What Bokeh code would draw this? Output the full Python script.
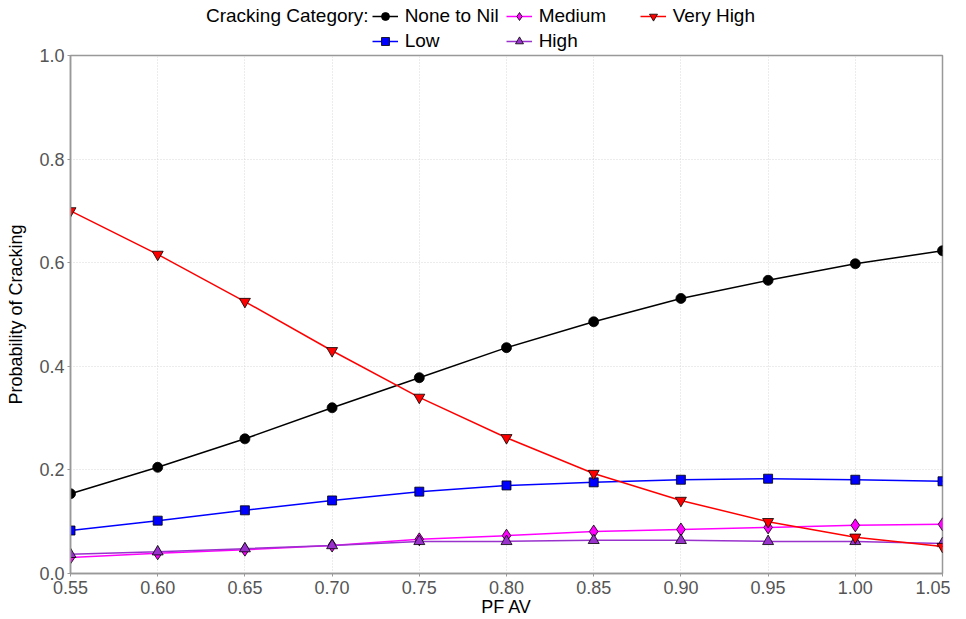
from bokeh.plotting import figure
from bokeh.layouts import column
from bokeh.models import Range1d, FixedTicker, Legend, LegendItem, NumeralTickFormatter
from bokeh.embed import file_html
from bokeh.resources import INLINE

pf_av = [0.55, 0.60, 0.65, 0.70, 0.75, 0.80, 0.85, 0.90, 0.95, 1.00, 1.05]
none_to_nil = [0.154, 0.205, 0.260, 0.320, 0.378, 0.436, 0.486, 0.531, 0.566, 0.598, 0.623]
low = [0.083, 0.102, 0.122, 0.141, 0.158, 0.170, 0.176, 0.181, 0.183, 0.181, 0.178]
medium = [0.031, 0.039, 0.046, 0.054, 0.066, 0.073, 0.081, 0.085, 0.089, 0.093, 0.095]
high = [0.037, 0.042, 0.048, 0.054, 0.062, 0.062, 0.064, 0.064, 0.062, 0.062, 0.058]
very_high = [0.700, 0.616, 0.525, 0.430, 0.340, 0.262, 0.193, 0.141, 0.100, 0.070, 0.052]

x_ticks = [0.55, 0.60, 0.65, 0.70, 0.75, 0.80, 0.85, 0.90, 0.95, 1.00, 1.05]
y_ticks = [0.0, 0.2, 0.4, 0.6, 0.8, 1.0]

series = [
    ("None to Nil", none_to_nil, "#000000", "circle", 10),
    ("Low", low, "#0000FF", "square", 9),
    ("Medium", medium, "#FF00FF", "diamond", 13),
    ("High", high, "#9932CC", "triangle", 11),
    ("Very High", very_high, "#FF0000", "inverted_triangle", 11),
]
legend_title = "Cracking Category:"

FONT = "Liberation Sans"

# ---------------- main chart ----------------
p = figure(width=950, height=575, output_backend="svg", toolbar_location=None,
           x_range=Range1d(0.55, 1.05), y_range=Range1d(0.0, 1.0),
           min_border_left=70, min_border_right=8, min_border_bottom=5, min_border_top=11,
           margin=(-8, 0, 0, 0))

p.background_fill_color = "white"
p.border_fill_color = "white"
p.border_fill_alpha = 0
p.outline_line_color = "#999999"
p.outline_line_width = 1.5

for ax in (p.xaxis, p.yaxis):
    ax.major_label_text_font = FONT
    ax.major_label_text_font_size = "18px"
    ax.major_label_text_color = "#555555"
    ax.axis_label_text_font = FONT
    ax.axis_label_text_font_size = "18px"
    ax.axis_label_text_font_style = "normal"
    ax.axis_label_text_color = "#000000"
    ax.axis_line_color = "#999999"
    ax.axis_line_width = 1.5
    ax.major_tick_line_color = "#999999"
    ax.major_tick_in = 0
    ax.major_tick_out = 3
    ax.minor_tick_line_color = None

p.xaxis.ticker = FixedTicker(ticks=x_ticks)
p.yaxis.ticker = FixedTicker(ticks=y_ticks)
p.xaxis.formatter = NumeralTickFormatter(format="0.00")
p.yaxis.formatter = NumeralTickFormatter(format="0.0")
p.xaxis.axis_label = "PF AV"
p.yaxis.axis_label = "Probability of Cracking"
p.xaxis.axis_label_standoff = 0
p.yaxis.axis_label_standoff = 10
p.xaxis.major_label_standoff = 4
p.yaxis.major_label_standoff = 3

for g in (p.xgrid, p.ygrid):
    g.grid_line_color = "#d8d8d8"
    g.grid_line_dash = "1 2"
    g.grid_line_width = 1
p.xgrid.ticker = FixedTicker(ticks=x_ticks)
p.ygrid.ticker = FixedTicker(ticks=y_ticks)

for name, ys, color, marker, size in series:
    p.line(pf_av, ys, line_color=color, line_width=1.5)
    p.scatter(pf_av, ys, marker=marker, size=size, fill_color=color,
              line_color="#000000", line_width=0.8)

# ---------------- legend strip above the chart ----------------
top = figure(width=950, height=52, output_backend="svg", toolbar_location=None,
             x_range=Range1d(0, 1), y_range=Range1d(0, 1),
             x_axis_location=None, y_axis_location=None,
             min_border_left=0, min_border_right=0, min_border_top=0, min_border_bottom=0)
top.grid.visible = False
top.outline_line_color = None
top.background_fill_color = "white"
top.border_fill_color = "white"

leg_items = {}
for name, ys, color, marker, size in series:
    r1 = top.line(pf_av, ys, line_color=color, line_width=1.5, visible=False)
    r2 = top.scatter(pf_av, ys, marker=marker, size=size - 1, fill_color=color,
                     line_color="#000000", line_width=0.8, visible=False)
    leg_items[name] = LegendItem(label=name, renderers=[r1, r2])
blank1 = top.line(pf_av, none_to_nil, line_alpha=0, visible=False)
blank2 = top.line(pf_av, none_to_nil, line_alpha=0, visible=False)

items = [LegendItem(label=legend_title, renderers=[blank1]),
         leg_items["None to Nil"], leg_items["Medium"], leg_items["Very High"],
         LegendItem(label=" ", renderers=[blank2]),
         leg_items["Low"], leg_items["High"]]

legend = Legend(items=items, orientation="horizontal", ncols=4,
                label_text_font=FONT, label_text_font_size="19px",
                label_text_color="#000000",
                label_height=20, label_width=98, glyph_height=20, glyph_width=26,
                spacing=3, padding=0, margin=0, label_standoff=7,
                border_line_color=None, background_fill_alpha=0,
                inactive_fill_alpha=0,
                location=(103, 0))
top.add_layout(legend, "center")

layout = column(top, p, spacing=0)
open("out.html", "w").write(file_html(layout, INLINE))
